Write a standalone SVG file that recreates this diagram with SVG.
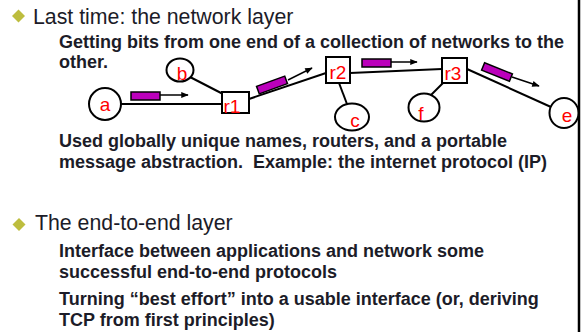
<svg xmlns="http://www.w3.org/2000/svg" width="582" height="332" viewBox="0 0 582 332">
<defs>
<style>
.h{font-family:"Liberation Sans",Arial,sans-serif;font-size:21.3px;fill:#1c1c28}
.p{font-family:"Liberation Sans",Arial,sans-serif;font-size:18px;font-weight:bold;fill:#1c1c28}
.lbl{font-family:"Liberation Sans",Arial,sans-serif;font-size:19px;fill:#ff0000;text-anchor:middle}
.nd{fill:#fff;stroke:#000;stroke-width:2}
.cn{stroke:#000;stroke-width:2;fill:none}
.pk{fill:#bb00bb;stroke:#000;stroke-width:1.5}
.ar{stroke:#000;stroke-width:1.5;fill:none;marker-end:url(#ah)}
.bul{fill:#bdbd3e}
</style>
<marker id="ah" viewBox="0 0 10 8" refX="9" refY="4" markerWidth="8" markerHeight="6" markerUnits="userSpaceOnUse" orient="auto">
<path d="M0,0 L10,4 L0,8 z" fill="#000"/>
</marker>
</defs>
<rect width="582" height="332" fill="#fff"/>
<line x1="579" y1="0" x2="579" y2="332" stroke="#000" stroke-width="2.5"/>

<path class="bul" d="M18.5,9.5 L25,16 L18.5,22.5 L12,16 z"/>
<text class="h" x="33" y="24">Last time: the network layer</text>
<text class="p" x="59" y="48">Getting bits from one end of a collection of networks to the</text>
<text class="p" x="59" y="68">other.</text>

<g id="connectors">
<line class="cn" x1="121" y1="104" x2="222" y2="104"/>
<line class="cn" x1="190" y1="77" x2="223" y2="94"/>
<line class="cn" x1="249" y1="99" x2="326" y2="73"/>
<line class="cn" x1="350" y1="73" x2="442" y2="69"/>
<line class="cn" x1="339" y1="83" x2="347" y2="104"/>
<line class="cn" x1="443" y1="83" x2="431" y2="95"/>
<line class="cn" x1="467" y1="69" x2="551" y2="107"/>
</g>

<g id="packets">
<rect class="pk" x="131" y="92" width="29" height="8"/>
<line class="ar" x1="160" y1="95" x2="188" y2="95"/>
<rect class="pk" x="-15" y="-4" width="30" height="8" transform="translate(272,85) rotate(-20)"/>
<line class="ar" x1="288" y1="80" x2="312" y2="68"/>
<rect class="pk" x="362" y="59" width="29" height="8"/>
<line class="ar" x1="391" y1="62" x2="417" y2="62"/>
<rect class="pk" x="-15" y="-4" width="30" height="8" transform="translate(497,72) rotate(22)"/>
<line class="ar" x1="512" y1="77" x2="539" y2="86"/>
</g>

<g id="node-a"><circle class="nd" cx="105" cy="104" r="16"/><text class="lbl" x="105" y="111">a</text></g>
<g id="node-b"><ellipse class="nd" cx="180" cy="70" rx="13.5" ry="11.5"/><text class="lbl" x="182" y="80">b</text></g>
<g id="node-r1"><rect class="nd" x="222" y="92" width="27" height="21"/><text class="lbl" x="232" y="113">r1</text></g>
<g id="node-r2"><rect class="nd" x="326" y="57" width="24" height="26"/><text class="lbl" x="338" y="79">r2</text></g>
<g id="node-r3"><rect class="nd" x="442" y="58" width="25" height="25"/><text class="lbl" x="453" y="80">r3</text></g>
<g id="node-c"><ellipse class="nd" cx="352" cy="117" rx="17" ry="13.5"/><text class="lbl" x="355" y="127">c</text></g>
<g id="node-f"><ellipse class="nd" cx="424" cy="107.5" rx="15.5" ry="14"/><text class="lbl" x="421" y="120">f</text></g>
<g id="node-e"><ellipse class="nd" cx="564" cy="113" rx="14.5" ry="15"/><text class="lbl" x="567" y="122">e</text></g>

<text class="p" x="59" y="147">Used globally unique names, routers, and a portable</text>
<text class="p" x="59" y="168">message abstraction.&#160; Example: the internet protocol (IP)</text>

<path class="bul" d="M19,218 L25.5,224.5 L19,231 L12.5,224.5 z"/>
<text class="h" x="35" y="230">The end-to-end layer</text>
<text class="p" x="59" y="257">Interface between applications and network some</text>
<text class="p" x="59" y="278">successful end-to-end protocols</text>
<text class="p" x="59" y="305">Turning “best effort” into a usable interface (or, deriving</text>
<text class="p" x="59" y="326">TCP from first principles)</text>
</svg>
